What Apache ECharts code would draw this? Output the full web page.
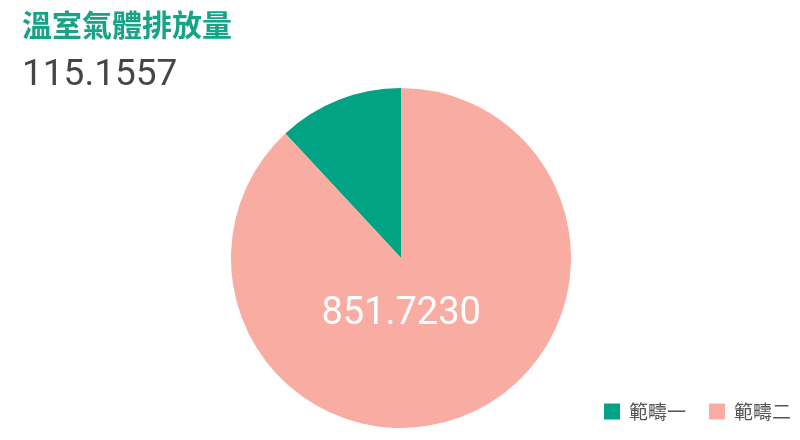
<!DOCTYPE html>
<html><head><meta charset="utf-8">
<script src="https://cdn.jsdelivr.net/npm/echarts@6/dist/echarts.min.js"></script>
<style>html,body{margin:0;padding:0;background:#fff}#c{width:800px;height:440px}</style>
</head><body><div id="c"></div>
<script>
const titleText = '溫室氣體排放量';
const categories = ['範疇一', '範疇二'];
const values = [115.1557, 851.7230];
const colors = ['#02a385', '#f8aca2'];

const chart = echarts.init(document.getElementById('c'));
chart.setOption({
  animation: false,
  title: {
    text: titleText,
    subtext: values[0].toFixed(4),
    left: 17, top: 5,
    itemGap: 17,
    textStyle: { fontFamily: 'Noto Sans CJK TC', fontSize: 30, fontWeight: 'bold', color: '#16a386' },
    subtextStyle: { fontFamily: 'Roboto', fontSize: 37, color: '#454545' }
  },
  legend: {
    right: 4, bottom: 14,
    itemWidth: 16, itemHeight: 16, itemGap: 23,
    icon: 'rect',
    data: categories,
    textStyle: { fontFamily: 'Noto Sans CJK TC', fontSize: 19, color: '#555', padding: [0,0,0,4] }
  },
  series: [{
    type: 'pie',
    center: [401, 258],
    radius: 170,
    clockwise: false,
    startAngle: 90,
    silent: true,
    labelLine: { show: false },
    data: categories.map((n, i) => ({
      name: n, value: values[i],
      itemStyle: { color: colors[i] },
      label: i === 0 ? { show: false } : {
        show: true, position: 'inside', formatter: p => p.value.toFixed(4),
        fontFamily: 'Roboto', fontSize: 38, color: '#fff', offset: [-32, -25]
      }
    }))
  }]
});
</script></body></html>
